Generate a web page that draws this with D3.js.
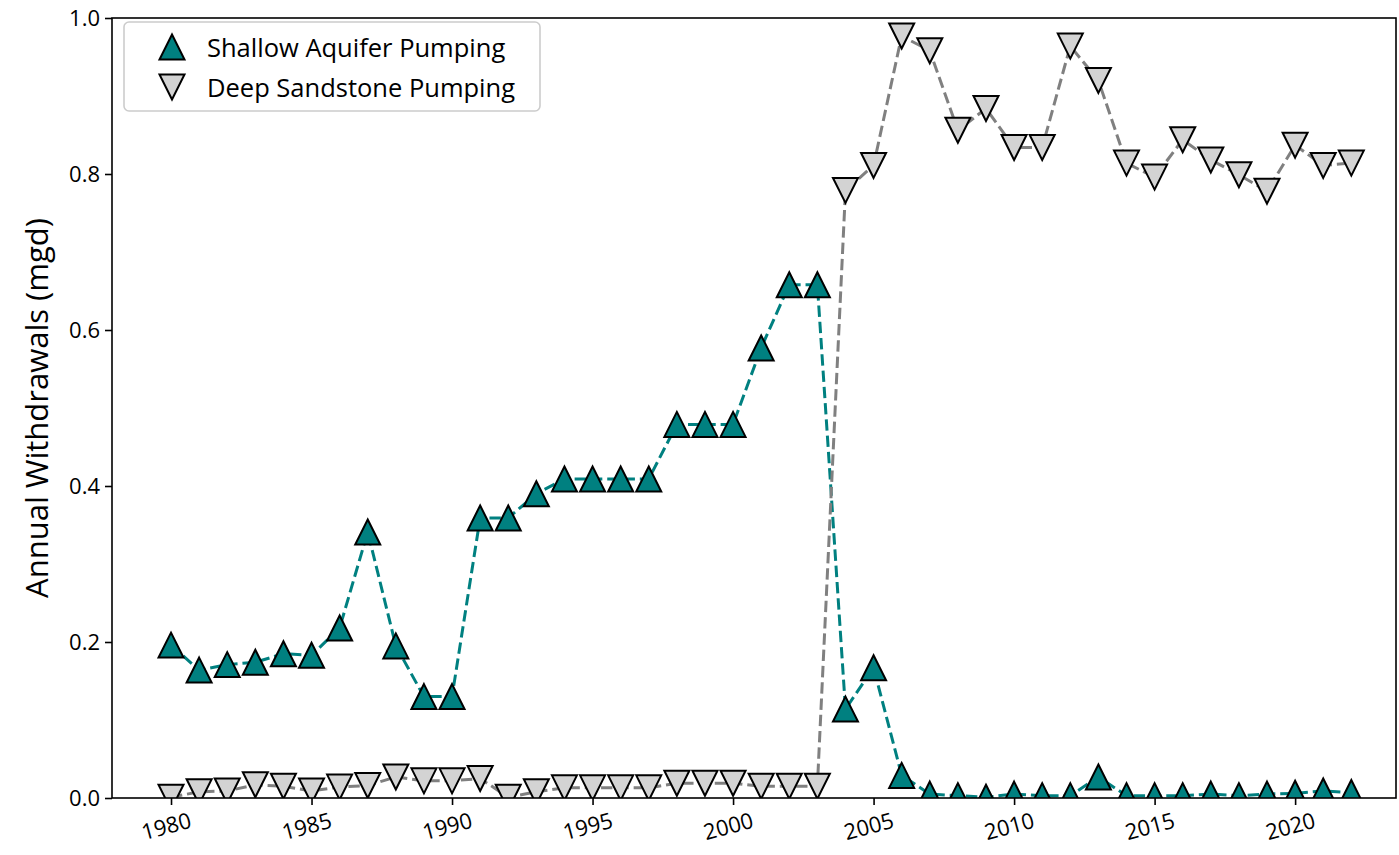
<!DOCTYPE html>
<html>
<head>
<meta charset="utf-8">
<script src="https://cdn.jsdelivr.net/npm/d3@7"></script>
<style>
  html, body { margin: 0; padding: 0; background: #fff; }
  svg { display: block; font-family: "Open Sans", sans-serif; }
</style>
</head>
<body>
<svg id="chart" width="1399" height="855"></svg>
<script>
// ---- data ----
const years = [1980,1981,1982,1983,1984,1985,1986,1987,1988,1989,
               1990,1991,1992,1993,1994,1995,1996,1997,1998,1999,
               2000,2001,2002,2003,2004,2005,2006,2007,2008,2009,
               2010,2011,2012,2013,2014,2015,2016,2017,2018,2019,
               2020,2021,2022];
const shallow = [0.196,0.164,0.171,0.174,0.185,0.183,0.218,0.341,0.195,0.130,
                 0.130,0.359,0.359,0.390,0.409,0.409,0.409,0.409,0.479,0.479,
                 0.479,0.577,0.658,0.658,0.114,0.167,0.029,0.005,0.003,0.001,
                 0.005,0.003,0.003,0.027,0.003,0.003,0.003,0.005,0.003,0.005,
                 0.006,0.009,0.007];
const deep = [0.001,0.008,0.009,0.017,0.015,0.009,0.014,0.016,0.027,0.022,
              0.022,0.025,0.001,0.008,0.013,0.013,0.013,0.013,0.019,0.019,
              0.019,0.015,0.015,0.015,0.779,0.811,0.977,0.958,0.856,0.884,
              0.834,0.834,0.964,0.920,0.814,0.796,0.844,0.818,0.799,0.778,
              0.837,0.811,0.814];
const seriesNames = ["Shallow Aquifer Pumping", "Deep Sandstone Pumping"];
const xTicks = [1980,1985,1990,1995,2000,2005,2010,2015,2020];
const yTicks = [0.0,0.2,0.4,0.6,0.8,1.0];
const yLabel = "Annual Withdrawals (mgd)";

// ---- layout ----
const L = 112, R = 1396, T = 18, B = 798;
const svg = d3.select("#chart");
const x = d3.scaleLinear().domain([1977.9, 2023.59]).range([L, R]);
const y = d3.scaleLinear().domain([0, 1]).range([B, T]);

svg.append("defs").append("clipPath").attr("id", "plotclip")
  .append("rect").attr("x", L).attr("y", T).attr("width", R - L).attr("height", B - T);

const s = 12.5;
const upTri = `M0,${-s}L${s},${s}L${-s},${s}Z`;
const downTri = `M0,${s}L${s},${-s}L${-s},${-s}Z`;

const plot = svg.append("g").attr("clip-path", "url(#plotclip)");

function drawSeries(vals, lineColor, fill, path) {
  const data = years.map((yr, i) => [yr, vals[i]]);
  plot.append("path")
    .datum(data)
    .attr("fill", "none")
    .attr("stroke", lineColor)
    .attr("stroke-width", 3)
    .attr("stroke-dasharray", "11.4,4.9")
    .attr("d", d3.line().x(d => x(d[0])).y(d => y(d[1])));
  plot.append("g").selectAll("path")
    .data(data).join("path")
    .attr("d", path)
    .attr("transform", d => `translate(${x(d[0])},${y(d[1])})`)
    .attr("fill", fill)
    .attr("stroke", "#000")
    .attr("stroke-width", 2)
    .attr("stroke-linejoin", "miter");
}
drawSeries(shallow, "#008080", "#008080", upTri);
drawSeries(deep, "#808080", "#d3d3d3", downTri);

// ---- axes ----
const xAxis = svg.append("g").attr("transform", `translate(0,${B})`)
  .call(d3.axisBottom(x).tickValues(xTicks).tickSize(7).tickFormat(""));
xAxis.select(".domain").remove();
xAxis.selectAll("line").attr("stroke", "#000").attr("stroke-width", 1.6);
svg.append("g").selectAll("text").data(xTicks).join("text")
  .attr("transform", d => `translate(${x(d) - 5},${825}) rotate(-15)`)
  .attr("text-anchor", "middle")
  .attr("dominant-baseline", "central")
  .attr("font-size", 22)
  .attr("fill", "#000")
  .text(d => d);

const yAxis = svg.append("g").attr("transform", `translate(${L},0)`)
  .call(d3.axisLeft(y).tickValues(yTicks).tickSize(7).tickPadding(5).tickFormat(d3.format(".1f")));
yAxis.select(".domain").remove();
yAxis.selectAll("line").attr("stroke", "#000").attr("stroke-width", 1.6);
yAxis.selectAll("text").attr("font-size", 22).attr("fill", "#000")
  .attr("font-family", "Open Sans, sans-serif");

svg.append("rect").attr("x", L).attr("y", T).attr("width", R - L).attr("height", B - T)
  .attr("fill", "none").attr("stroke", "#000").attr("stroke-width", 1.6);

svg.append("text")
  .attr("transform", `translate(36,${(T + B) / 2}) rotate(-90)`)
  .attr("text-anchor", "middle")
  .attr("dominant-baseline", "central")
  .attr("font-size", 31)
  .attr("fill", "#000")
  .text(yLabel);

// ---- legend ----
const lg = svg.append("g");
lg.append("rect").attr("x", 124).attr("y", 22).attr("width", 416).attr("height", 89)
  .attr("rx", 5).attr("fill", "#fff").attr("fill-opacity", 0.8)
  .attr("stroke", "#cccccc").attr("stroke-width", 1.6);
const legItems = [
  {name: seriesNames[0], path: upTri, fill: "#008080", cy: 47},
  {name: seriesNames[1], path: downTri, fill: "#d3d3d3", cy: 87}
];
legItems.forEach(it => {
  lg.append("path").attr("d", it.path)
    .attr("transform", `translate(172,${it.cy})`)
    .attr("fill", it.fill).attr("stroke", "#000").attr("stroke-width", 2);
  lg.append("text").attr("x", 207).attr("y", it.cy)
    .attr("dominant-baseline", "central")
    .attr("font-size", 25.5).attr("fill", "#000")
    .text(it.name);
});
</script>
</body>
</html>
